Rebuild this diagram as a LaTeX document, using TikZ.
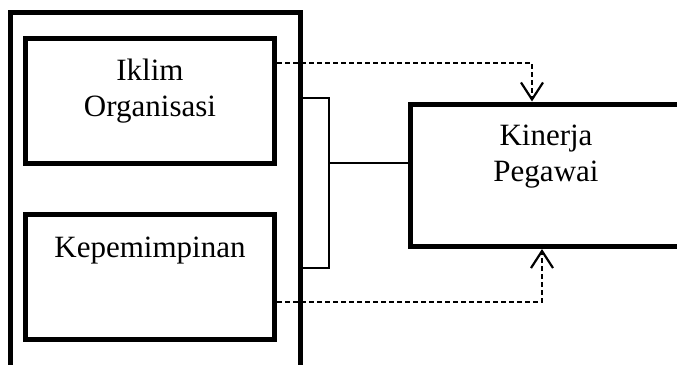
\documentclass[tikz,border=0pt]{standalone}
\usepackage{fontspec}
\setmainfont{Liberation Serif}
\usetikzlibrary{arrows.meta}
\begin{document}
\begin{tikzpicture}[x=1pt,y=-1pt,
  thickbox/.style={draw,line width=5pt,rectangle,inner sep=0pt},
  lbl/.style={font=\fontsize{31}{36.5}\selectfont,align=center,anchor=base,inner sep=0pt},
  dashconn/.style={line width=2pt,dash pattern=on 5pt off 3pt,
    -{Straight Barb[length=17pt,width=22pt,line width=2.2pt]}},
  thinline/.style={line width=1.5pt}]
\useasboundingbox (0,0) rectangle (677,364);
\clip (0,0) rectangle (677,364);
% boxes
\node[thickbox,minimum width=290pt,minimum height=387.5pt] (outer) at (155,206.25) {};
\node[thickbox,minimum width=249pt,minimum height=125pt] (iklim) at (150,101) {};
\node[thickbox,minimum width=249pt,minimum height=125pt] (kep) at (150,277) {};
\node[thickbox,minimum width=310pt,minimum height=142.5pt] (kin) at (565,175.25) {};
% labels (anchor base = baseline of last line)
\node[lbl] (tiklim) at (150,116.5) {Iklim\\Organisasi};
\node[lbl] (tkep) at (150,257.5) {Kepemimpinan};
\node[lbl] (tkin) at (546,181.5) {Kinerja\\Pegawai};
% bracket
\coordinate (br) at (329,163);
\draw[thinline] (outer.east |- 0,98) -| (br |- 0,268) -- (outer.east |- 0,268);
\draw[thinline] (br) -- (kin.west |- br);
% dashed arrows
\draw[dashconn] (iklim.east |- 0,63) -| (532,0 |- kin.north);
\draw[dashconn] (kep.east |- 0,302) -| (542,0 |- kin.south);
\end{tikzpicture}
\end{document}
